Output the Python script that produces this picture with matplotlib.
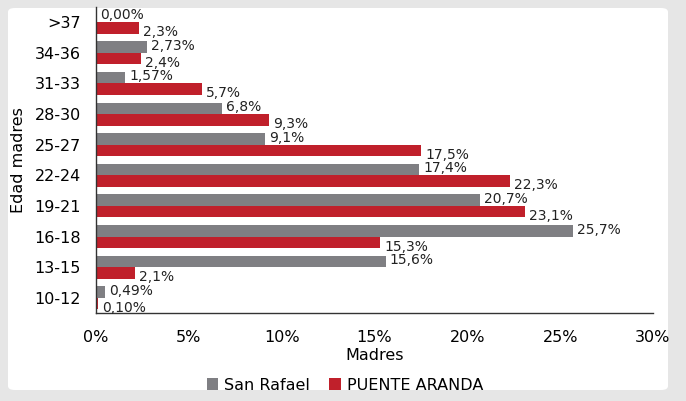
import matplotlib
matplotlib.use("Agg")
import matplotlib.pyplot as plt
from matplotlib.patches import FancyBboxPatch
import numpy as np

categories = ["10-12", "13-15", "16-18", "19-21", "22-24", "25-27", "28-30", "31-33", "34-36", ">37"]
san_rafael = [0.49, 15.6, 25.7, 20.7, 17.4, 9.1, 6.8, 1.57, 2.73, 0.00]
puente_aranda = [0.10, 2.1, 15.3, 23.1, 22.3, 17.5, 9.3, 5.7, 2.4, 2.3]
sr_labels = ["0,49%", "15,6%", "25,7%", "20,7%", "17,4%", "9,1%", "6,8%", "1,57%", "2,73%", "0,00%"]
pa_labels = ["0,10%", "2,1%", "15,3%", "23,1%", "22,3%", "17,5%", "9,3%", "5,7%", "2,4%", "2,3%"]
xticks = [0, 5, 10, 15, 20, 25, 30]
xtick_labels = ["0%", "5%", "10%", "15%", "20%", "25%", "30%"]

GRAY = "#7F7F83"
RED = "#C0202B"

fig = plt.figure(figsize=(6.86, 4.01), dpi=100)
fig.patch.set_facecolor("#E6E6E6")
panel = FancyBboxPatch((8 / 686, 11 / 401), 660 / 686, 382 / 401,
                       boxstyle="round,pad=0,rounding_size=0.01",
                       transform=fig.transFigure, facecolor="white",
                       edgecolor="none", zorder=-10)
fig.patches.append(panel)

ax = fig.add_axes([96 / 686, 1 - 313.3 / 401, (653 - 96) / 686, 306.6 / 401])
ax.set_facecolor("none")

y = np.arange(len(categories))
h = 0.375
ax.barh(y + h / 2, san_rafael, height=h, color=GRAY, label="San Rafael")
ax.barh(y - h / 2, puente_aranda, height=h, color=RED, label="PUENTE ARANDA")

for yi, v, s in zip(y, san_rafael, sr_labels):
    ax.annotate(s, (v, yi + h / 2), xytext=(3, 1), textcoords="offset points",
                va="center", ha="left", fontsize=10, color="#222222")
for yi, v, s in zip(y, puente_aranda, pa_labels):
    ax.annotate(s, (v, yi - h / 2), xytext=(3, -3), textcoords="offset points",
                va="center", ha="left", fontsize=10, color="#222222")

ax.set_xlim(0, 30)
ax.set_ylim(-0.5, len(categories) - 0.5)
ax.set_xticks(xticks)
ax.set_xticklabels(xtick_labels, fontsize=11.5)
ax.set_yticks(y)
ax.set_yticklabels(categories, fontsize=11.5)
ax.tick_params(axis="both", length=0)
ax.tick_params(axis="x", pad=12)
ax.tick_params(axis="y", pad=11)
for sp in ["top", "right"]:
    ax.spines[sp].set_visible(False)
for sp in ["left", "bottom"]:
    ax.spines[sp].set_color("#333333")
    ax.spines[sp].set_linewidth(1.0)

ax.set_xlabel("Madres", fontsize=11.5, labelpad=2)
ax.set_ylabel("Edad madres", fontsize=11.5, labelpad=6)

fig.legend(loc="center", bbox_to_anchor=(345 / 686, 1 - 385 / 401), ncol=2,
           frameon=False, fontsize=11.5, handlelength=0.7, handleheight=0.7,
           handletextpad=0.4, columnspacing=1.2)

fig.savefig("out.png", dpi=100, facecolor=fig.get_facecolor())
